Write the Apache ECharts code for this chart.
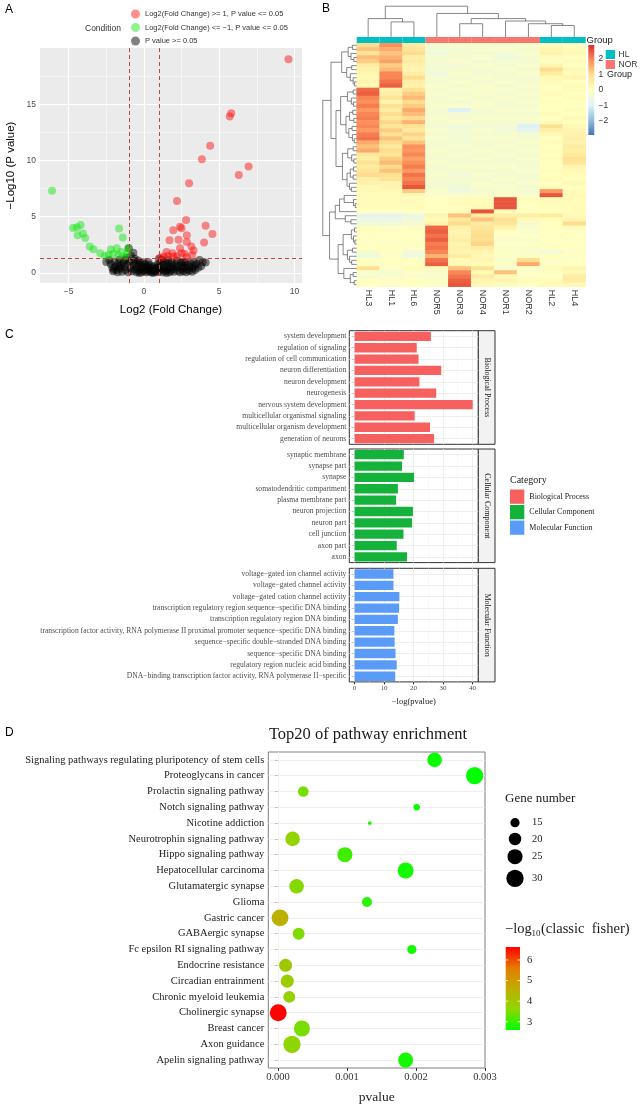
<!DOCTYPE html>
<html><head><meta charset="utf-8">
<script src="https://cdn.jsdelivr.net/npm/echarts@6/dist/echarts.min.js"></script>
<style>html,body{margin:0;padding:0;background:#fff}#c{width:642px;height:1112px}</style>
</head><body><div id="c"></div>
<script>
// ================= DATA =================
// ---- Panel A: volcano plot ----
const volcanoUp = [[9.6,19.0],[5.8,14.2],[5.7,13.9],[4.4,11.3],[3.85,10.1],[6.95,9.45],[6.3,8.7],[3.0,7.97],[2.2,6.4],[2.8,4.7],[2.4,4.1],[2.5,3.98],[1.95,3.8],[4.1,4.2],[4.55,3.45],[2.85,3.35],[1.7,2.9],[2.3,2.95],[2.85,2.75],[4.0,2.7],[3.15,2.35],[2.4,2.2],[3.3,2.0],[1.5,1.85],[1.9,1.75],[2.7,1.7],[1.3,1.45],[1.95,1.45],[2.85,1.4],[2.5,1.75],[1.1,1.35],[1.6,1.5],[3.2,1.6],[2.2,1.5]];
const volcanoDown = [[-6.1,7.3],[-4.7,4.0],[-4.2,4.25],[-4.45,4.05],[-4.4,3.35],[-4.05,3.5],[-3.9,3.1],[-3.6,2.35],[-3.35,2.1],[-2.9,1.75],[-1.65,3.95],[-1.4,3.15],[-2.2,2.1],[-1.8,2.2],[-1.5,1.85],[-1.05,2.2],[-2.35,1.6],[-2.05,1.7],[-1.25,1.45],[-1.7,1.6],[-2.6,1.5],[-1.1,1.8]];
const volcanoNS = [[-2.5,0.97],[-2.3,1.15],[-2.2,0.8],[-2.1,0.45],[-2.05,0.15],[-1.95,1.0],[-1.9,0.6],[-1.8,0.25],[-1.75,0.05],[-1.7,0.85],
[-1.6,1.2],[-1.55,0.4],[-1.5,0.7],[-1.45,0.1],[-1.35,0.95],[-1.3,0.55],[-1.25,0.25],[-1.2,1.15],[-1.1,0.75],[-1.05,0.05],
[-1.0,2.2],[-0.95,1.0],[-0.9,0.4],[-0.85,1.5],[-0.8,0.15],[-0.75,0.65],[-0.7,1.8],[-0.65,1.05],[-0.6,0.3],[-0.55,0.8],
[-0.5,0.05],[-0.45,0.5],[-0.4,1.1],[-0.35,0.2],[-0.3,0.7],[-0.25,0.9],[-0.2,0.35],[-0.15,0.05],[-0.1,0.6],[-0.05,0.95],
[0.0,0.2],[0.05,0.45],[0.1,0.8],[0.15,0.05],[0.2,0.3],[0.25,0.6],[0.3,0.15],[0.35,0.4],[0.4,0.7],[0.45,0.05],
[0.5,0.25],[0.55,0.5],[0.6,0.1],[0.65,0.35],[0.7,0.6],[0.75,0.2],[0.8,0.05],[0.85,0.45],[0.9,0.75],[0.95,0.3],
[1.0,0.1],[1.05,0.55],[1.1,0.9],[1.15,0.25],[1.2,1.2],[1.25,0.05],[1.3,0.7],[1.35,0.4],[1.4,1.0],[1.45,0.15],
[1.5,0.6],[1.55,0.3],[1.6,1.15],[1.65,0.85],[1.7,0.05],[1.75,0.5],[1.8,0.2],[1.85,0.95],[1.9,0.65],[1.95,0.35],
[2.0,0.1],[2.1,0.8],[2.15,0.45],[2.2,1.1],[2.25,0.2],[2.3,0.6],[2.4,0.05],[2.45,0.9],[2.5,0.35],[2.55,0.65],
[2.6,0.15],[2.7,0.5],[2.75,0.95],[2.8,0.05],[2.85,0.3],[2.9,0.7],[3.0,0.2],[3.05,0.5],[3.1,0.85],[3.2,0.1],
[3.25,0.4],[3.35,0.65],[3.4,0.25],[3.5,0.8],[3.6,0.45],[3.7,1.15],[3.8,0.6],[3.9,0.95],[4.1,0.92],[-1.15,1.35],
[-0.6,1.25],[0.3,0.95],[-2.0,0.3],[-1.65,0.55],[1.0,1.25],[2.6,1.0],[3.3,0.95],[-0.3,0.0],[0.6,0.0],[1.5,0.0]];
const volcanoNames = ['Log2(Fold Change) >= 1, P value <= 0.05','Log2(Fold Change) <= \u22121, P value <= 0.05','P value >= 0.05'];
const volcanoXTicks = [-5, 0, 5, 10];
const volcanoYTicks = [0, 5, 10, 15];
const volcanoXMinor = [-2.5, 2.5, 7.5];
const volcanoYMinor = [2.5, 7.5, 12.5, 17.5];
const volcanoCutX = [-1, 1];
const volcanoCutY = [1.3];

// ---- Panel B: heatmap ----
const heatCols = ['HL3','HL1','HL6','NOR5','NOR3','NOR4','NOR1','NOR2','HL2','HL4'];
const heatGroups = ['HL','HL','HL','NOR','NOR','NOR','NOR','NOR','HL','HL'];
const heatRows = [
[1.0,1.9,0.6,-0.3,-0.2,-0.2,-0.3,-0.2,0.1,0.0],
[1.3,1.6,0.8,-0.4,-0.3,-0.2,-0.2,-0.3,0.3,0.1],
[0.8,1.3,1.0,-0.5,-0.3,-0.3,-0.4,-0.2,0.4,0.2],
[1.4,1.5,0.5,-0.3,-0.3,-0.2,-0.5,-0.3,0.1,0.0],
[1.2,1.7,0.6,-0.3,-0.2,-0.3,-0.3,-0.3,0.0,0.1],
[0.6,1.2,0.4,-0.4,-0.3,-0.2,-0.3,-0.2,0.3,0.0],
[0.4,1.4,0.3,-0.3,-0.3,-0.3,-0.2,-0.3,1.0,0.2],
[0.3,2.0,0.5,-0.5,-0.2,-0.3,-0.3,-0.2,0.6,0.1],
[0.2,2.0,1.0,-0.3,-0.3,-0.2,-0.3,-0.3,0.2,0.3],
[0.3,2.2,0.5,-0.3,-0.2,-0.3,-0.2,-0.3,0.1,0.0],
[0.2,2.4,0.4,-0.2,-0.3,-0.2,-0.3,-0.2,0.0,0.1],
[2.3,0.4,0.9,-0.3,-0.2,-0.2,-0.2,-0.3,0.0,0.1],
[2.4,0.5,1.2,-0.2,-0.3,-0.2,-0.3,-0.2,0.1,0.0],
[2.0,0.8,1.4,-0.3,-0.2,-0.3,-0.2,-0.3,0.0,0.1],
[1.9,0.3,1.0,-0.3,-0.3,-0.2,-0.3,-0.2,0.1,0.0],
[2.1,0.9,1.2,-0.2,-0.2,-0.2,-0.3,-0.3,0.0,0.0],
[1.8,0.6,1.6,-0.3,-1.0,-0.3,-0.2,-0.2,0.0,0.1],
[2.0,1.0,1.4,-0.3,-0.3,-0.3,-0.3,-0.3,0.1,0.0],
[2.1,0.7,1.0,-0.2,-0.3,-0.2,-0.2,-0.2,0.0,0.2],
[1.9,1.1,1.5,-0.3,-0.2,-0.3,-0.3,-0.3,0.1,0.0],
[2.0,0.8,0.9,-0.3,-0.5,-0.3,-0.3,-1.0,0.9,0.2],
[1.8,1.2,0.7,-0.2,-0.4,-0.2,-0.4,-0.8,0.5,0.3],
[2.1,0.9,1.1,-0.3,-0.3,-0.3,-0.3,-0.3,0.2,0.4],
[2.2,1.3,0.8,-0.2,-0.4,-0.2,-0.2,-0.3,0.0,0.5],
[1.6,1.0,1.3,-0.3,-0.3,-0.3,-0.3,-0.2,0.1,0.4],
[1.3,0.7,1.9,-0.3,-0.2,-0.3,-0.2,-0.3,0.0,0.6],
[1.6,1.0,1.8,-0.2,-0.3,-0.2,-0.3,-0.2,0.1,0.5],
[0.7,0.8,2.0,-0.3,-0.2,-0.3,-0.2,-0.3,0.0,0.7],
[0.5,1.2,1.7,-0.3,-0.3,-0.2,-0.3,-0.2,0.1,0.9],
[0.9,1.4,1.9,-0.2,-0.3,-0.3,-0.3,-0.3,0.0,0.8],
[0.6,1.0,2.1,-0.3,-0.2,-0.2,-0.2,-0.3,0.0,0.3],
[0.8,1.3,1.8,-0.3,-0.3,-0.3,-0.3,-0.2,0.1,0.2],
[1.0,0.9,2.2,-0.2,-0.4,-0.2,-0.3,-0.3,0.0,0.1],
[0.5,0.8,2.0,-0.3,-0.3,-0.3,-0.2,-0.3,0.1,0.0],
[0.4,0.3,2.2,-0.3,-0.3,-0.2,-0.3,-0.2,0.0,0.2],
[0.2,0.3,2.5,-0.3,-0.5,-0.2,-0.2,-0.3,0.1,0.0],
[0.2,0.2,1.2,-0.2,-0.5,-0.3,-0.2,-0.3,1.8,0.1],
[0.1,0.1,0.2,-0.2,-0.2,-0.2,-0.2,-0.2,2.5,0.2],
[0.1,0.1,0.1,0.0,0.1,0.1,2.5,0.1,0.2,0.1],
[0.1,0.1,0.1,0.0,0.1,0.1,2.5,0.0,0.1,0.1],
[0.1,0.1,0.1,0.0,0.0,0.2,2.5,0.0,0.1,0.1],
[0.0,0.0,0.0,0.0,0.1,2.5,0.1,0.0,0.0,0.1],
[-0.8,-0.8,-0.6,0.3,1.3,0.6,0.5,0.5,0.6,0.2],
[-0.6,-0.6,-0.5,0.1,0.7,1.3,0.9,0.2,0.1,0.3],
[-0.5,-0.5,-0.3,0.4,1.0,0.6,0.8,-0.3,0.0,1.0],
[0.0,-0.1,-0.1,2.3,0.4,0.8,0.4,-0.2,0.0,0.1],
[0.0,-0.1,0.0,2.4,0.3,0.9,0.0,-0.2,0.0,-0.1],
[-0.1,0.0,-0.1,2.2,0.4,1.0,-0.1,-0.1,-0.1,0.0],
[0.0,-0.1,0.0,2.4,0.5,0.9,-0.2,-0.2,0.0,-0.1],
[-0.1,-0.1,-0.1,2.1,0.3,1.1,-0.1,-0.1,-0.1,0.0],
[0.0,0.0,-0.1,2.2,0.4,0.5,-0.2,-0.2,0.0,-0.1],
[-0.3,-0.1,-0.4,2.0,0.3,0.3,-0.1,-0.2,-0.4,-0.1],
[-0.5,-0.1,-0.5,1.5,0.6,0.2,-0.1,-0.1,0.0,0.0],
[0.0,0.0,0.0,2.2,0.2,0.3,-0.2,1.0,-0.1,-0.1],
[0.0,-0.1,0.0,2.4,0.2,0.1,-0.1,1.6,-0.1,0.0],
[0.9,-0.1,0.1,0.1,1.3,0.9,-0.2,-0.1,0.1,0.3],
[-0.2,-0.3,-0.1,-0.2,2.0,0.1,1.3,-0.1,-0.1,0.2],
[-0.3,-0.2,-0.2,-0.2,2.2,0.6,0.2,-0.1,0.0,0.6],
[0.0,-0.1,0.0,-0.1,2.4,0.3,0.3,0.1,0.1,0.6],
[0.0,-0.1,0.0,-0.1,2.5,0.2,0.1,0.0,0.2,0.2]];
// dendrograms: [left, right, height]
const colTree = [[0,[1,2,5.0],6.1],[3,[[4,5,4.4],[6,[7,[8,9,3.8],4.4],5.3],6.1],7.8],10.2];
const rowC1 = [[[0,1,1.2],[2,[3,4,0.8],1.6],2.4],[[5,6,1.4],[7,[8,[9,10,0.6],1.0],1.8],2.8],4.2];
const rowC2 = [[[11,12,1.0],[13,[14,15,0.9],1.5],2.6],[[[16,17,1.1],[18,19,0.8],2.0],[[20,21,1.3],[22,[23,24,0.7],1.2],2.2],3.0],4.5];
const rowC3 = [[[25,26,1.0],[27,[28,29,0.8],1.4],2.5],[[[30,31,0.9],[32,33,1.0],1.8],[34,[35,36,1.5],2.0],2.7],4.0];
const rowC4 = [[37,[38,[39,40,0.4],0.9],3.5],41,4.8];
const rowC5 = [42,[43,44,1.6],3.2];
const rowC6 = [[[45,46,0.6],[47,[48,49,0.5],0.9],1.5],[[50,51,1.2],[52,[53,54,1.4],2.0],2.6],3.8];
const rowC7 = [55,[[56,57,1.0],[58,59,0.7],1.8],3.6];
const rowTree = [[rowC1,[rowC2,rowC3,5.8],7.2],[[rowC4,rowC5,6.0],[rowC6,rowC7,5.2],7.6],9.5];
const heatLegendTicks = [2, 1, 0, -1, -2];
const heatMin = -2.9, heatMax = 2.9;

// ---- Panel C: GO bars ----
const bpTerms = ['system development','regulation of signaling','regulation of cell communication','neuron differentiation','neuron development','neurogenesis','nervous system development','multicellular organismal signaling','multicellular organism development','generation of neurons'];
const bpValues = [25.9,21.1,21.7,29.4,22.0,27.7,40.1,20.4,25.6,27.0];
const ccTerms = ['synaptic membrane','synapse part','synapse','somatodendritic compartment','plasma membrane part','neuron projection','neuron part','cell junction','axon part','axon'];
const ccValues = [16.7,16.1,20.2,14.7,14.1,19.8,19.5,16.6,14.3,17.8];
const mfTerms = ['voltage\u2212gated ion channel activity','voltage\u2212gated channel activity','voltage\u2212gated cation channel activity','transcription regulatory region sequence\u2212specific DNA binding','transcription regulatory region DNA binding','transcription factor activity, RNA polymerase II proximal promoter sequence\u2212specific DNA binding','sequence\u2212specific double\u2212stranded DNA binding','sequence\u2212specific DNA binding','regulatory region nucleic acid binding','DNA\u2212binding transcription factor activity, RNA polymerase II\u2212specific'];
const mfValues = [13.2,13.2,15.2,15.1,14.7,13.5,13.6,13.9,14.3,13.8];
const goCategories = ['Biological Process','Cellular Component','Molecular Function'];
const goXTicks = [0, 10, 20, 30, 40];
const goXMinor = [5, 15, 25, 35];

// ---- Panel D: pathway bubbles ----
const pathways = ['Signaling pathways regulating pluripotency of stem cells','Proteoglycans in cancer','Prolactin signaling pathway','Notch signaling pathway','Nicotine addiction','Neurotrophin signaling pathway','Hippo signaling pathway','Hepatocellular carcinoma','Glutamatergic synapse','Glioma','Gastric cancer','GABAergic synapse','Fc epsilon RI signaling pathway','Endocrine resistance','Circadian entrainment','Chronic myeloid leukemia','Cholinergic synapse','Breast cancer','Axon guidance','Apelin signaling pathway'];
const pathwayP = [0.00227,0.00285,0.000367,0.00201,0.00133,0.000212,0.00097,0.00185,0.00027,0.00129,0.00003,0.0003,0.00194,0.00011,0.000135,0.000164,0.000004,0.000347,0.000203,0.00185];
const pathwayGenes = [24,30,17,12,10,24,25,27,24,16,29,19,15,21,21,19,29,27,30,25];
const pathwayFisher = [2.65,2.55,3.45,2.7,2.85,3.7,3.05,2.75,3.55,2.9,4.5,3.5,2.72,3.95,3.85,3.78,6.6,3.45,3.65,2.75];
const pathwayXTicks = [0, 0.001, 0.002, 0.003];
const pathwayXMinor = [0.0005, 0.0015, 0.0025];
const geneLegend = [15, 20, 25, 30];
const fisherTicks = [6, 5, 4, 3];
const fisherMin = 2.6, fisherMax = 6.63;

// ================= STYLE / HELPERS =================
const SANS = 'Liberation Sans, Arial, sans-serif';
const SERIF = 'Liberation Serif, Times New Roman, serif';
const heatPalette = ['#4575B4','#91BFDB','#E0F3F8','#FFFFBF','#FEE090','#FC8D59','#D73027'];
const groupColor = {HL:'#00BFC4', NOR:'#F8766D'};
const goColors = ['#F6605F','#14B23A','#5A9BF8'];
const fisherColors = ['#00FF00','#8ED700','#C2AC00','#E57A00','#FF0000'];
const cutColor = '#C0473D';
const geneSize = g => Math.sqrt(14.2 * (g - 9));
const minus = v => String(v).replace('-', '\u2212');

function treeSegments(tree, swap) {
  const segs = [];
  function walk(node) {
    if (typeof node === 'number') return {p: node + 0.5, h: 0};
    const a = walk(node[0]), b = walk(node[1]), H = node[2];
    const add = (p1,h1,p2,h2) => segs.push(swap ? [h1,p1,h2,p2] : [p1,h1,p2,h2]);
    add(a.p, a.h, a.p, H); add(b.p, b.h, b.p, H); add(a.p, H, b.p, H);
    return {p: (a.p + b.p) / 2, h: H};
  }
  walk(tree);
  return segs;
}
function segRender(params, api) {
  const a = api.coord([api.value(0), api.value(1)]);
  const b = api.coord([api.value(2), api.value(3)]);
  return {type:'line', shape:{x1:a[0],y1:a[1],x2:b[0],y2:b[1]}, style:{stroke:'#555', lineWidth:0.7}};
}
function vLines(vals, color, width, type) { return vals.map(v => ({xAxis: v, lineStyle:{color, width, type: type || 'solid'}})); }
function hLines(vals, color, width, type) { return vals.map(v => ({yAxis: v, lineStyle:{color, width, type: type || 'solid'}})); }
function gridSeries(xi, lines, z, baseStyle) {
  return {type:'line', xAxisIndex:xi, yAxisIndex:xi, data:[], silent:true, z: z || 1,
    markLine:{silent:true, symbol:['none','none'], z: z || 1, label:{show:false}, emphasis:{disabled:true}, animation:false,
      lineStyle: baseStyle || {}, data: lines}};
}

const heatData = [];
heatRows.forEach((row, r) => row.forEach((v, c) => heatData.push([c, r, v])));
const colSegs = treeSegments(colTree, false);
const rowSegs = treeSegments(rowTree, true);

// ================= OPTION =================
const grids = [
  {left:40, top:48, width:262, height:235, show:true, backgroundColor:'#EBEBEB', borderWidth:0},
  {left:356.7, top:43.3, width:229, height:243.4},
  {left:356.7, top:5, width:229, height:32},
  {left:321, top:43.3, width:35.7, height:243.4},
  {left:356.7, top:37, width:229, height:6},
  {left:349.3, top:330.7, width:129, height:113.6, show:true, borderColor:'#333', borderWidth:1},
  {left:349.3, top:449, width:129, height:113.6, show:true, borderColor:'#333', borderWidth:1},
  {left:349.3, top:568.3, width:129, height:113.6, show:true, borderColor:'#333', borderWidth:1},
  {left:268.3, top:752, width:216.7, height:316, show:true, borderColor:'#7f7f7f', borderWidth:1}
].map(g => Object.assign({outerBoundsMode:'none', containLabel:false}, g));

const hidden = (gi, extra) => Object.assign({gridIndex:gi, show:false}, extra);
const xAxes = [
  {gridIndex:0, type:'value', min:-6.9, max:10.5, axisLine:{show:false}, splitLine:{show:false},
   axisTick:{show:true, customValues:volcanoXTicks, length:2.5, lineStyle:{color:'#333'}},
   axisLabel:{customValues:volcanoXTicks, formatter:minus, fontSize:8.5, color:'#4d4d4d', margin:4, fontFamily:SANS},
   name:'Log2 (Fold Change)', nameLocation:'middle', nameGap:21, nameTextStyle:{fontSize:11.5, color:'#000', fontFamily:SANS}},
  {gridIndex:1, type:'category', data:heatCols, axisLine:{show:false}, axisTick:{show:false}, splitLine:{show:false},
   axisLabel:{rotate:-90, interval:0, fontSize:9, color:'#333', margin:3, fontFamily:SANS}},
  hidden(2, {type:'value', min:0, max:10}),
  hidden(3, {type:'value', min:0, max:10, inverse:true}),
  hidden(4, {type:'category', data:heatCols})
];
const yAxes = [
  {gridIndex:0, type:'value', min:-0.9, max:20, axisLine:{show:false}, splitLine:{show:false},
   axisTick:{show:true, customValues:volcanoYTicks, length:2.5, lineStyle:{color:'#333'}},
   axisLabel:{customValues:volcanoYTicks, fontSize:8.5, color:'#4d4d4d', margin:4, fontFamily:SANS},
   name:'\u2212Log10 (P value)', nameLocation:'middle', nameGap:23, nameTextStyle:{fontSize:11.5, color:'#000', fontFamily:SANS}},
  hidden(1, {type:'category', data:heatRows.map((_, i) => 'r' + i), inverse:true}),
  hidden(2, {type:'value', min:0, max:10.6}),
  hidden(3, {type:'value', min:0, max:heatRows.length, inverse:true}),
  hidden(4, {type:'value', min:0, max:1})
];
const goTermSets = [bpTerms, ccTerms, mfTerms];
const goValueSets = [bpValues, ccValues, mfValues];
goTermSets.forEach((terms, k) => {
  const last = k === 2;
  xAxes.push({gridIndex:5+k, type:'value', min:-1.8, max:42, axisLine:{show:false}, splitLine:{show:false},
    axisTick:{show:last, customValues:goXTicks, length:2.5, lineStyle:{color:'#333'}},
    axisLabel:{show:last, customValues:goXTicks, fontSize:7, color:'#4d4d4d', margin:3, fontFamily:SERIF},
    name: last ? '\u2212log(pvalue)' : '', nameLocation:'middle', nameGap:15,
    nameTextStyle:{fontSize:8.5, color:'#222', fontFamily:SERIF}});
  yAxes.push({gridIndex:5+k, type:'category', data:terms, inverse:true, axisLine:{show:false}, splitLine:{show:false},
    axisTick:{show:true, alignWithLabel:true, length:2.5, lineStyle:{color:'#333'}},
    axisLabel:{interval:0, fontSize:7.6, color:'#4d4d4d', margin:3, fontFamily:SERIF}});
});
xAxes.push({gridIndex:8, type:'value', min:-0.00014, max:0.003, axisLine:{show:false}, splitLine:{show:false},
  axisTick:{show:true, customValues:pathwayXTicks, length:3, lineStyle:{color:'#333'}},
  axisLabel:{customValues:pathwayXTicks, formatter:v => v.toFixed(3), fontSize:10.5, color:'#333', margin:4, fontFamily:SERIF},
  name:'pvalue', nameLocation:'middle', nameGap:22, nameTextStyle:{fontSize:13.5, color:'#222', fontFamily:SERIF}});
yAxes.push({gridIndex:8, type:'category', data:pathways, inverse:true, axisLine:{show:false}, splitLine:{show:false},
  axisTick:{show:true, alignWithLabel:true, length:3, lineStyle:{color:'#333'}},
  axisLabel:{interval:0, fontSize:10.5, color:'#222', margin:4, fontFamily:SERIF}});

const series = [];
// Panel A
series.push(gridSeries(0, vLines(volcanoXTicks,'#fff',1).concat(vLines(volcanoXMinor,'#fff',0.5), hLines(volcanoYTicks,'#fff',1), hLines(volcanoYMinor,'#fff',0.5)), 1));
series.push({name:volcanoNames[2], type:'scatter', xAxisIndex:0, yAxisIndex:0, data:volcanoNS, symbolSize:8, itemStyle:{color:'rgba(0,0,0,0.62)'}, z:2, silent:true});
series.push({name:volcanoNames[1], type:'scatter', xAxisIndex:0, yAxisIndex:0, data:volcanoDown, symbolSize:8, itemStyle:{color:'rgba(0,230,0,0.55)'}, z:3, silent:true});
series.push({name:volcanoNames[0], type:'scatter', xAxisIndex:0, yAxisIndex:0, data:volcanoUp, symbolSize:8, itemStyle:{color:'rgba(255,0,0,0.55)'}, z:3, silent:true});
series.push(gridSeries(0, vLines(volcanoCutX,cutColor,1,[4,3]).concat(hLines(volcanoCutY,cutColor,1,[4,3])), 6,
  {color:cutColor, width:1, type:[4,3]}));
// Panel B
const heatSeriesIndex = series.length;
series.push({type:'heatmap', xAxisIndex:1, yAxisIndex:1, data:heatData, silent:true, progressive:0, emphasis:{disabled:true}});
series.push({type:'custom', xAxisIndex:2, yAxisIndex:2, data:colSegs, renderItem:segRender, encode:{x:[0,2], y:[1,3]}, silent:true});
series.push({type:'custom', xAxisIndex:3, yAxisIndex:3, data:rowSegs, renderItem:segRender, encode:{x:[0,2], y:[1,3]}, silent:true});
series.push({type:'bar', xAxisIndex:4, yAxisIndex:4, barCategoryGap:'0%', silent:true,
  data:heatGroups.map(g => ({value:1, itemStyle:{color:groupColor[g]}}))});
// Panel C
goTermSets.forEach((terms, k) => {
  series.push(gridSeries(5+k, vLines(goXTicks,'#EBEBEB',0.8).concat(vLines(goXMinor,'#F3F3F3',0.5), hLines(terms,'#EBEBEB',0.8)), 1));
  series.push({name:goCategories[k], type:'bar', xAxisIndex:5+k, yAxisIndex:5+k, data:goValueSets[k], barWidth:'82%',
    itemStyle:{color:goColors[k]}, z:2, silent:true});
});
// Panel D
series.push(gridSeries(8, vLines(pathwayXTicks,'#EBEBEB',0.8).concat(vLines(pathwayXMinor,'#F4F4F4',0.5), hLines(pathways,'#EBEBEB',0.8)), 1));
const bubbleSeriesIndex = series.length;
series.push({type:'scatter', xAxisIndex:8, yAxisIndex:8, z:3, silent:true,
  data:pathways.map((n, i) => [pathwayP[i], i, pathwayFisher[i], pathwayGenes[i]]),
  symbolSize: v => geneSize(v[3]), itemStyle:{opacity:1}});

// ================= GRAPHIC (labels / legends) =================
const g = [];
const txt = (x, y, text, size, family, fill, align, extra) => g.push(Object.assign({type:'text', x, y, silent:true,
  style:{text, fontSize:size, fontFamily:family, fill:fill || '#000', align:align || 'left', verticalAlign:'middle', textAlign:align || 'left', textVerticalAlign:'middle'}}, extra || {}));
txt(5, 10, 'A', 12, SANS); txt(322, 9, 'B', 12, SANS); txt(5, 335, 'C', 12, SANS); txt(5, 733, 'D', 12, SANS);
txt(85, 29, 'Condition', 8.5, SANS, '#333');
// heatmap legends
txt(586.5, 40.5, 'Group', 9.5, SANS, '#222');
const hbTop = 45, hbH = 90;
g.push({type:'rect', silent:true, shape:{x:588.3, y:hbTop, width:6, height:hbH},
  style:{fill:new echarts.graphic.LinearGradient(0,0,0,1, heatPalette.slice().reverse().map((c,i,a) => ({offset:i/(a.length-1), color:c})))}});
heatLegendTicks.forEach(v => txt(598.5, hbTop + (heatMax - v) / (heatMax - heatMin) * hbH, minus(v), 8.5, SANS, '#333'));
['HL','NOR'].forEach((k, i) => {
  g.push({type:'rect', silent:true, shape:{x:605.7, y:50 + i*10, width:9.3, height:9}, style:{fill:groupColor[k]}});
  txt(618.5, 54.5 + i*10, k, 8.5, SANS, '#333');
});
txt(607, 74.5, 'Group', 9, SANS, '#222');
// GO strips
const facetTops = [330.7, 449, 568.3];
facetTops.forEach((t, k) => {
  g.push({type:'rect', silent:true, shape:{x:478.3, y:t, width:16.7, height:113.6}, style:{fill:'#F2F2F2', stroke:'#333', lineWidth:1}});
  g.push({type:'text', silent:true, x:486.8, y:t + 56.8, rotation:-Math.PI/2,
    style:{text:goCategories[k], fontSize:8, fontFamily:SERIF, fill:'#1a1a1a', align:'center', verticalAlign:'middle', textAlign:'center', textVerticalAlign:'middle'}});
});
txt(510, 480, 'Category', 10, SERIF, '#222');
// Panel D title + legends
txt(368, 735, 'Top20 of pathway enrichment', 16.5, SERIF, '#1a1a1a', 'center');
txt(505, 799, 'Gene number', 13, SERIF, '#1a1a1a');
const geneLegendY = [822.7, 839, 856.7, 878.3];
geneLegend.forEach((v, i) => {
  g.push({type:'circle', silent:true, shape:{cx:515, cy:geneLegendY[i], r:geneSize(v)/2}, style:{fill:'#000'}});
  txt(532, geneLegendY[i], String(v), 10.5, SERIF, '#222');
});
txt(505, 929, '\u2212log', 14.5, SERIF, '#1a1a1a');
txt(531.5, 934, '10', 9, SERIF, '#1a1a1a');
txt(541, 929, '(classic  fisher)', 14.5, SERIF, '#1a1a1a');
const fbTop = 947, fbH = 83, fbX = 505.7, fbW = 14.3;
g.push({type:'rect', silent:true, shape:{x:fbX, y:fbTop, width:fbW, height:fbH},
  style:{fill:new echarts.graphic.LinearGradient(0,0,0,1, fisherColors.slice().reverse().map((c,i,a) => ({offset:i/(a.length-1), color:c})))}});
fisherTicks.forEach(v => {
  const y = fbTop + (fisherMax - v) / (fisherMax - fisherMin) * fbH;
  g.push({type:'line', silent:true, shape:{x1:fbX, y1:y, x2:fbX+2.5, y2:y}, style:{stroke:'#fff', lineWidth:0.8}});
  g.push({type:'line', silent:true, shape:{x1:fbX+fbW-2.5, y1:y, x2:fbX+fbW, y2:y}, style:{stroke:'#fff', lineWidth:0.8}});
  txt(527, y, String(v), 10.5, SERIF, '#222');
});

const option = {
  animation:false,
  backgroundColor:'#fff',
  textStyle:{fontFamily:SANS},
  grid:grids, xAxis:xAxes, yAxis:yAxes, series:series,
  legend:[
    {data:volcanoNames, orient:'vertical', left:131, top:9.5, itemWidth:9, itemHeight:9, itemGap:4.5, icon:'circle',
     selectedMode:false, textStyle:{fontSize:7.5, color:'#333', fontFamily:SANS}, padding:0},
    {data:goCategories, orient:'vertical', left:510, top:489.5, itemWidth:14.3, itemHeight:14.3, itemGap:1.2, icon:'rect',
     selectedMode:false, textStyle:{fontSize:8, color:'#222', fontFamily:SERIF}, padding:0}
  ],
  visualMap:[
    {type:'continuous', show:false, seriesIndex:heatSeriesIndex, dimension:2, min:heatMin, max:heatMax, inRange:{color:heatPalette}},
    {type:'continuous', show:false, seriesIndex:bubbleSeriesIndex, dimension:2, min:fisherMin, max:fisherMax, inRange:{color:fisherColors}}
  ],
  graphic:g
};
const chart = echarts.init(document.getElementById('c'), null, {renderer:'canvas'});
chart.setOption(option);
</script></body></html>
